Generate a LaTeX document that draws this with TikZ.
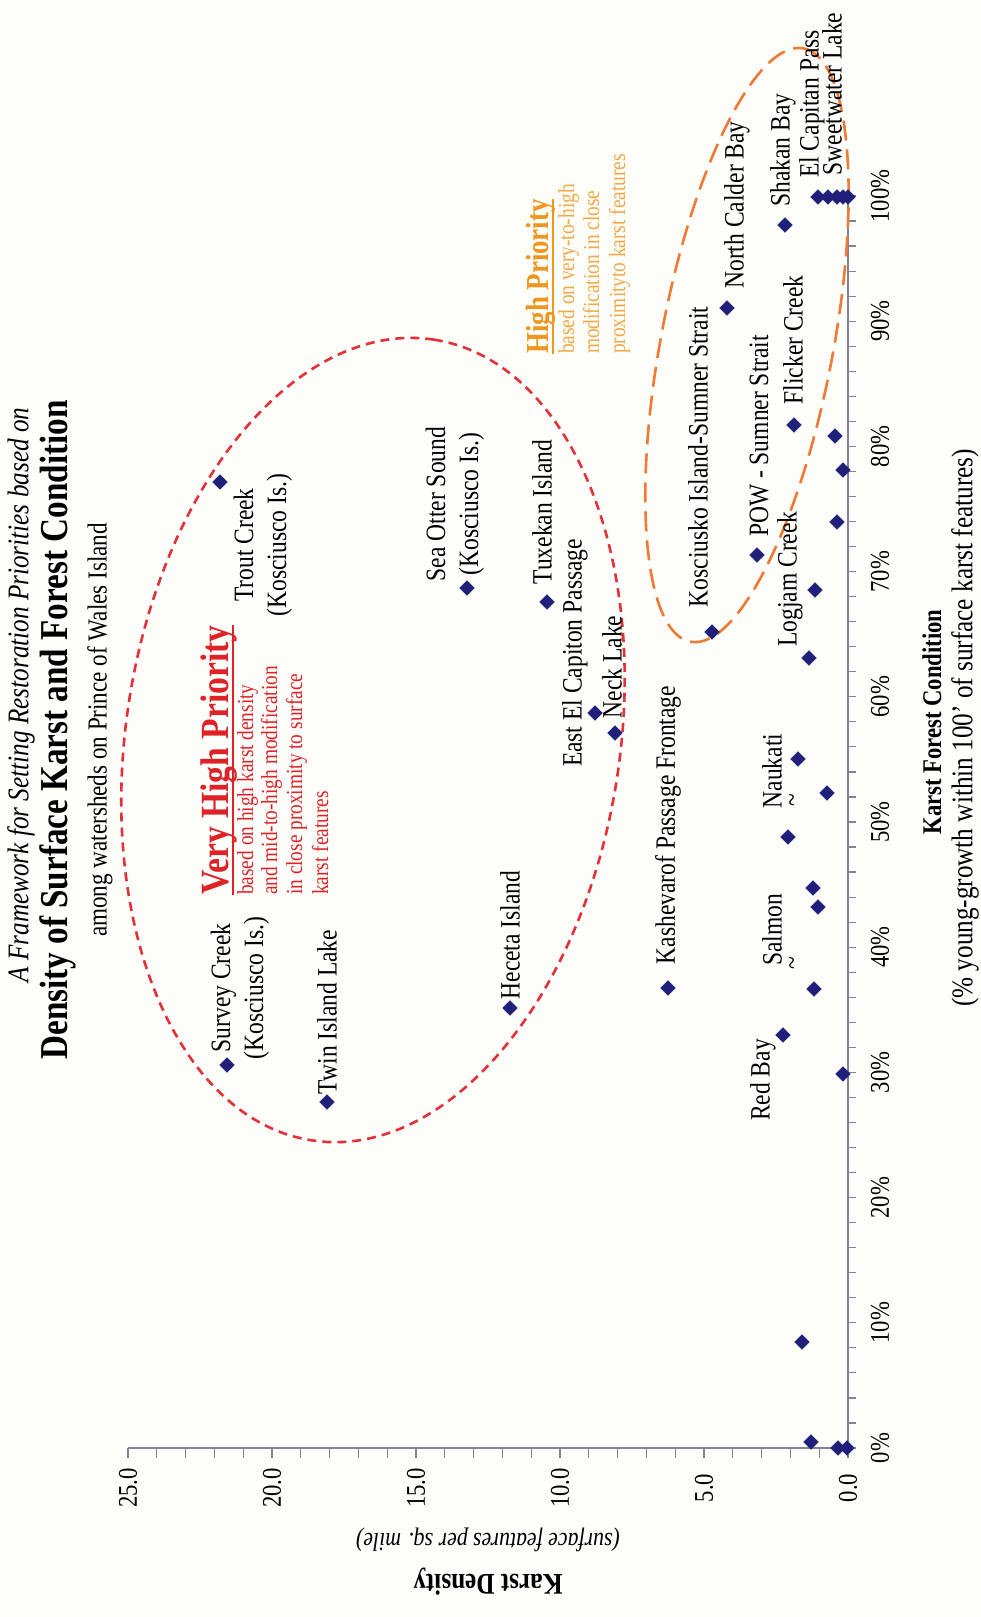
\documentclass[tikz,border=0pt]{standalone}
\usepackage{fontspec}
\setmainfont{Liberation Serif}[FakeStretch=0.84]
\usetikzlibrary{shapes.geometric}
\definecolor{navy}{RGB}{32,32,122}
\definecolor{axisgray}{RGB}{130,130,150}
\definecolor{ringred}{RGB}{228,48,58}
\definecolor{ringorange}{RGB}{240,122,52}
\definecolor{redtxt}{RGB}{222,34,40}
\definecolor{orhead}{RGB}{240,150,30}
\definecolor{ortxt}{RGB}{242,168,70}
\definecolor{bgc}{RGB}{253,253,249}
\newcommand{\fsz}[2]{\fontsize{#1}{#2}\selectfont}
\begin{document}
\begin{tikzpicture}[x=1pt,y=-1pt,
  lbl/.style={rotate=90,inner sep=0pt,align=center,font=\fsz{28}{33}},
  ticklbl/.style={rotate=90,inner sep=0pt,font=\fsz{27}{30}},
  mk/.style={diamond,fill=navy,draw=navy,inner sep=0pt,minimum width=15pt,minimum height=15pt},
  axisline/.style={draw=axisgray,line width=1.2pt},
  redring/.style={draw=ringred,line width=2.6pt,dash pattern=on 9pt off 6pt},
  orring/.style={draw=ringorange,line width=2.6pt,dash pattern=on 20pt off 9pt},
  vhs/.style={rotate=90,anchor=base west,inner sep=0pt,text=redtxt,font=\fsz{23}{25}},
  hps/.style={rotate=90,anchor=base west,inner sep=0pt,text=ortxt,font=\fsz{23}{25}},
]
\fill[bgc] (0,0) rectangle (980,1617);
\useasboundingbox (0,0) rectangle (980,1617);

% axes
\coordinate (o) at (848,1448);
\coordinate (yend) at (128,1448);
\coordinate (xend) at (848,196);
\draw[axisline] (yend) -- (o) -- (xend);
\foreach \i in {0,...,25} \draw[axisline] ({848-28.8*\i},1448) -- ++(0,10);
\foreach \i in {0,...,50} \draw[axisline] (848,{1448-25.04*\i}) -- ++(8,0);
\foreach \v in {0,5,...,25} \node[ticklbl] (dl\v) at ({848-28.8*\v},1488) {\v.0};
\foreach \p in {0,10,...,100} \node[ticklbl] (pl\p) at (880,{1448-12.52*\p}) {\p\%};

% axis titles
\node[rotate=90,inner sep=0pt,font=\fsz{27}{32}\bfseries] (xt) at (932,722) {Karst Forest Condition};
\node[rotate=90,inner sep=0pt,font=\fsz{30}{34}] (xs) at (965,728) {(\% young-growth within 100' of surface karst features)};
\node[rotate=180,inner sep=0pt,font=\fsz{26}{30}\itshape] (ys) at (488,1540) {(surface features per sq. mile)};
\node[rotate=180,inner sep=0pt,font=\fsz{30}{34}\bfseries] (yt) at (488,1582) {Karst Density};

% titles
\node[rotate=90,inner sep=0pt,font=\fsz{30}{34}\itshape] (hdr) at (21,695) {A Framework for Setting Restoration Priorities based on};
\node[rotate=90,inner sep=0pt,font=\fsz{39.5}{44}\bfseries] (ttl) at (58,730) {Density of Surface Karst and Forest Condition};
\node[rotate=90,inner sep=0pt,font=\fsz{27.5}{32}] (sub) at (100,730) {among watersheds on Prince of Wales Island};

% priority rings
\coordinate (rc) at (373,740);
\draw[redring, rotate around={81.35:(rc)}] (rc) ellipse [x radius=405, y radius=247];
\coordinate (oc) at (747,345);
\draw[orring, rotate around={79.2:(oc)}] (oc) ellipse [x radius=302, y radius=86];

% very high priority text
\node[rotate=90,anchor=base west,inner sep=0pt,text=redtxt,font=\fsz{40}{44}\bfseries] (vhp) at (228,895) {Very High Priority};
\draw[redtxt,line width=2pt] ([xshift=5pt]vhp.base west) -- ([xshift=5pt]vhp.base east);
\node[vhs] (vh1) at (253,895) {based on high karst density};
\node[vhs] (vh2) at (277,895) {and mid-to-high modification};
\node[vhs] (vh3) at (302,895) {in close proximity to surface};
\node[vhs] (vh4) at (328,895) {karst features};

% high priority text
\node[rotate=90,anchor=base west,inner sep=0pt,text=orhead,font=\fsz{32}{36}\bfseries] (hp) at (548,354) {High Priority};
\draw[orhead,line width=2pt] ([xshift=5pt]hp.base west) -- ([xshift=5pt]hp.base east);
\node[hps] (hp1) at (574,354) {based on very-to-high};
\node[hps] (hp2) at (599,354) {modification in close};
\node[hps] (hp3) at (625,354) {proximityto karst features};

% data points
\foreach \px/\py [count=\i] in {227/1065,327/1102,510/1008,220/482,467/588,547/602,
  595/713,615/733,668/988,712/632,757/555,727/308,785/225,794/425,835/436,843/470,
  837/522,815/590,809/658,798/759,827/793,788/837,813/888,818/907,814/989,783/1035,
  843/1074,802/1342,811/1442,838/1448,847/1448,818/197,828/197,837/197,843/197,848/197}
  \node[mk] (p\i) at (\px,\py) {};

% data labels
\node[lbl] (l1) at (240,988) {Survey Creek\\(Kosciusco Is.)};
\node[lbl] (l2) at (327,1012) {Twin Island Lake};
\node[lbl] (l3) at (510,935) {Heceta Island};
\node[lbl] (l4) at (263,545) {Trout Creek\\(Kosciusco Is.)};
\node[lbl] (l5) at (455,504) {Sea Otter Sound\\(Kosciusco Is.)};
\node[lbl] (l6) at (542,512) {Tuxekan Island};
\node[lbl] (l7) at (575,653) {East El Capiton Passage};
\node[lbl] (l8) at (612,667) {Neck Lake};
\node[lbl] (l9) at (668,825) {Kashevarof Passage Frontage};
\node[lbl] (l10) at (698,457) {Kosciusko Island-Sumner Strait};
\node[lbl] (l11) at (759,436) {POW - Sumner Strait};
\node[lbl] (l12) at (737,205) {North Calder Bay};
\node[lbl] (l13) at (783,150) {Shakan Bay};
\node[lbl] (l14) at (812,104) {El Capitan Pass};
\node[lbl] (l15) at (832,94) {Sweetwater Lake};
\node[lbl] (l16) at (793,340) {Flicker Creek};
\node[lbl] (l17) at (790,579) {Logjam Creek};
\node[lbl] (l18) at (772,771) {Naukati};
\node[lbl] (l18b) at (795,800) {\textasciitilde};
\node[lbl] (l19) at (772,930) {Salmon};
\node[lbl] (l19b) at (795,963) {\textasciitilde};
\node[lbl] (l20) at (763,1080) {Red Bay};
\end{tikzpicture}
\end{document}
